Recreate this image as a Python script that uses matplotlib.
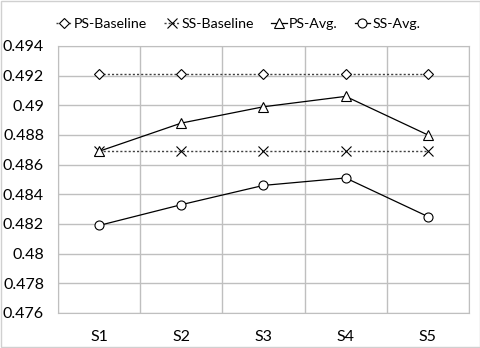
import matplotlib
matplotlib.use("Agg")
import matplotlib.pyplot as plt
from matplotlib.patches import Rectangle

labels = ["S1", "S2", "S3", "S4", "S5"]
ps_base = [0.4921, 0.4921, 0.4921, 0.4921, 0.4921]
ss_base = [0.4869, 0.4869, 0.4869, 0.4869, 0.4869]
ps_avg = [0.4869, 0.4888, 0.4899, 0.4906, 0.4880]
ss_avg = [0.4819, 0.4833, 0.4846, 0.4851, 0.4825]
yticks = [0.476, 0.478, 0.48, 0.482, 0.484, 0.486, 0.488, 0.49, 0.492, 0.494]
ytick_labels = ["0.476", "0.478", "0.48", "0.482", "0.484", "0.486", "0.488", "0.49", "0.492", "0.494"]

plt.rcParams["font.family"] = ["Lato", "DejaVu Sans"]

fig = plt.figure(figsize=(4.81, 3.48), dpi=100)
ax = fig.add_axes([0.1206, 0.1006, 0.8544, 0.7674])

x = list(range(1, len(labels) + 1))
mk = dict(markersize=6.5, markerfacecolor="white", markeredgecolor="black", markeredgewidth=0.8)
ax.plot(x, ps_base, color="#404040", lw=1, ls=(0, (1.5, 1.5)), marker="D", label="PS-Baseline",
        **{**mk, "markersize": 5})
ax.plot(x, ss_base, color="#404040", lw=1, ls=(0, (1.5, 1.5)), marker="x", label="SS-Baseline", **mk)
ax.plot(x, ps_avg, color="black", lw=0.9, marker="^", label="PS-Avg.", **mk)
ax.plot(x, ss_avg, color="black", lw=0.9, marker="o", label="SS-Avg.", **mk)

ax.set_xlim(0.5, len(labels) + 0.5)
ax.set_ylim(0.476, 0.494)
ax.set_yticks(yticks)
ax.set_yticklabels(ytick_labels)
ax.set_xticks(x)
ax.set_xticklabels(labels)
ax.set_xticks([i + 0.5 for i in range(len(labels) + 1)], minor=True)
ax.tick_params(axis="both", which="both", length=0, labelsize=11.5, colors="black")
ax.tick_params(axis="x", pad=12)
ax.tick_params(axis="y", pad=10)
ax.grid(True, which="major", axis="y", color="#bfbfbf", lw=1)
ax.grid(True, which="minor", axis="x", color="#bfbfbf", lw=1)
ax.set_axisbelow(True)
for s in ax.spines.values():
    s.set_color("#bfbfbf")

fig.legend(loc="upper center", bbox_to_anchor=(0.495, 0.985), ncol=4, frameon=False,
           fontsize=10.2, handlelength=1.1, handletextpad=0.15, columnspacing=1.2)

fig.patches.append(Rectangle((0.002, 0.002), 0.996, 0.996, transform=fig.transFigure,
                             fill=False, edgecolor="#d0d0d0", lw=1))

fig.savefig("out.png", dpi=100)
